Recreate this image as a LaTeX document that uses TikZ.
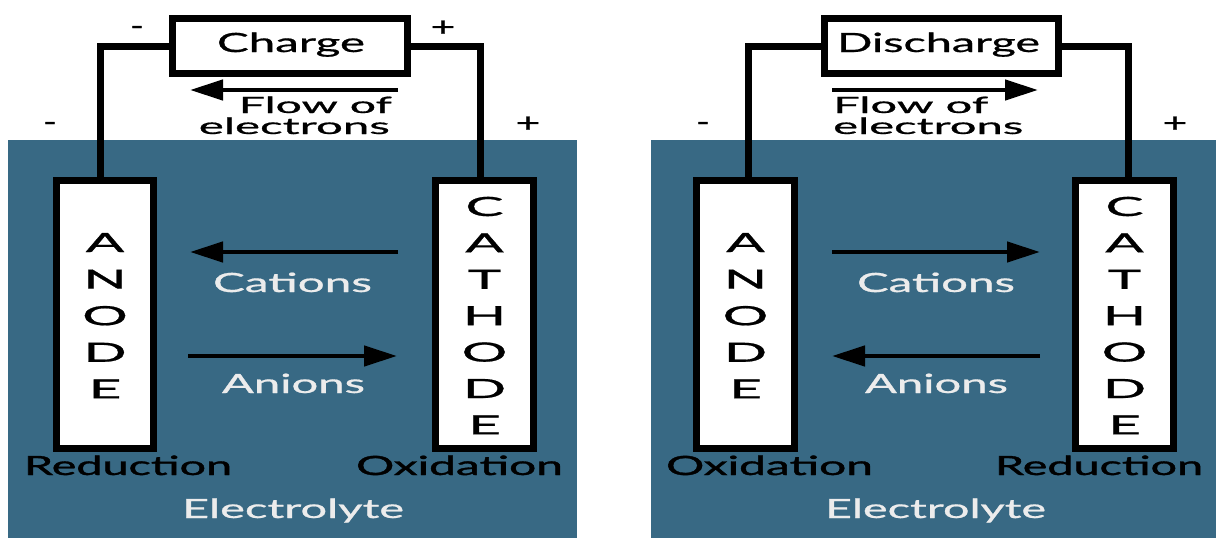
\documentclass[tikz,border=0pt]{standalone}
\usepackage{fontspec}
\setmainfont{Lato}
\newfontfamily\mfont{Lato}[FakeBold=0.7]
\newfontfamily\hfont{Lato}[FakeBold=1.2]
\usepackage{graphicx}
\usetikzlibrary{arrows.meta}
\definecolor{elec}{RGB}{56,105,132}
\definecolor{lite}{RGB}{236,236,236}
\newcommand{\fw}[2]{\resizebox{#1pt}{\height}{#2}}
\newcommand{\wl}[1]{\scalebox{2.15}[1]{#1}}
\begin{document}
\begin{tikzpicture}[x=1pt,y=-1pt,
  font=\fontsize{26.5}{30}\mfont,
  box/.style={draw=black, line width=7pt, fill=white, inner sep=0pt},
  electrode/.style={draw=black, line width=7pt, fill=white, inner sep=0pt,
    minimum height=268pt},
  wire/.style={draw=black, line width=7pt},
  arr/.style={draw=black, line width=4.5pt, -{Triangle[length=33pt,width=20pt]}},
  lbl/.style={anchor=base, inner sep=0pt, text=black},
  redox/.style={anchor=base, inner sep=0pt, text=black, font=\fontsize{26.5}{30}\hfont},
  flowlbl/.style={inner sep=0pt, text=black, font=\fontsize{22.5}{25}\mfont},
  ionlbl/.style={anchor=base, inner sep=0pt, text=lite},
  sign/.style={anchor=base, inner sep=0pt, text=black}]
\useasboundingbox (0,0) rectangle (1216,538);
\fill[white] (0,0) rectangle (1216,538);
\fill[elec] (8,140) rectangle (577,538);
\fill[elec] (651,140) rectangle (1216,538);

% ---------- left panel (Charge) ----------
\node[box, minimum width=235pt, minimum height=55pt] (chg) at (290,46) {};
\node[lbl] (chgt) at (291,52) {\fw{148}{Charge}};
\node[electrode, minimum width=97pt] (anL) at (105,314.5) {};
\node[electrode, minimum width=98pt] (caL) at (484.5,314.5) {};
\draw[wire] (chg.west) -| ([xshift=-5pt]anL.north);
\draw[wire] (chg.east) -| ([xshift=-4.5pt]caL.north);
\node[sign] (mL1) at (137,35) {\scalebox{1.4}[1]{-}};
\node[sign] (pL1) at (443,36) {\scalebox{1.6}[1]{+}};
\node[sign] (mL2) at (50,131) {\scalebox{1.4}[1]{-}};
\node[sign] (pL2) at (528,132) {\scalebox{1.6}[1]{+}};
\coordinate (fL1) at (398,90);
\coordinate (fL2) at (190,90);
\draw[arr] (fL1) -- (fL2);
\node[flowlbl, anchor=base east] (flowL) at (392,113) {\fw{153}{Flow of}};
\node[flowlbl, anchor=base east] (elL) at (390,134) {\fw{191}{electrons}};
\foreach \l [count=\i] in {A,N,O,D,E}
  \node[lbl] (aL\i) at (105,{252+36.6*(\i-1)}) {\wl{\l}};
\foreach \l [count=\i] in {C,A,T,H,O,D,E}
  \node[lbl] (cL\i) at (484.5,{216+36.4*(\i-1)}) {\wl{\l}};
\coordinate (cat1) at (398,252);
\coordinate (cat2) at (190,252);
\draw[arr] (cat1) -- (cat2);
\coordinate (an1) at (188,356);
\coordinate (an2) at (397,356);
\draw[arr] (an1) -- (an2);
\node[ionlbl] (catL) at (292.5,292) {\fw{159}{Cations}};
\node[ionlbl] (aniL) at (293.5,393) {\fw{143}{Anions}};
\node[redox] (redL) at (128,475) {\fw{208}{Reduction}};
\node[redox] (oxL) at (459.5,475) {\fw{207}{Oxidation}};
\node[ionlbl] (elyL) at (293,518) {\fw{222}{Electrolyte}};

% ---------- right panel (Discharge) ----------
\node[box, minimum width=234pt, minimum height=55pt] (dch) at (941.5,46) {};
\node[lbl] (dcht) at (938.5,52) {\fw{203}{Discharge}};
\node[electrode, minimum width=98pt] (anR) at (745.5,314.5) {};
\node[electrode, minimum width=98pt] (caR) at (1124.5,314.5) {};
\draw[wire] (dch.west) -| ([xshift=2.5pt]anR.north);
\draw[wire] (dch.east) -| ([xshift=3.5pt]caR.north);
\node[sign] (mR2) at (703,131) {\scalebox{1.4}[1]{-}};
\node[sign] (pR2) at (1175,132) {\scalebox{1.6}[1]{+}};
\coordinate (fR1) at (832,90);
\coordinate (fR2) at (1038,90);
\draw[arr] (fR1) -- (fR2);
\node[flowlbl, anchor=base west] (flowR) at (833,113) {\fw{155}{Flow of}};
\node[flowlbl, anchor=base west] (elR) at (833,134) {\fw{190}{electrons}};
\foreach \l [count=\i] in {A,N,O,D,E}
  \node[lbl] (aR\i) at (745.5,{252+36.6*(\i-1)}) {\wl{\l}};
\foreach \l [count=\i] in {C,A,T,H,O,D,E}
  \node[lbl] (cR\i) at (1124.5,{216+36.4*(\i-1)}) {\wl{\l}};
\coordinate (catR1) at (832,252);
\coordinate (catR2) at (1040,252);
\draw[arr] (catR1) -- (catR2);
\coordinate (anR1) at (1040,356);
\coordinate (anR2) at (832,356);
\draw[arr] (anR1) -- (anR2);
\node[ionlbl] (catR) at (936,292) {\fw{158}{Cations}};
\node[ionlbl] (aniR) at (936.5,393) {\fw{143}{Anions}};
\node[redox] (oxR) at (769.5,475) {\fw{207}{Oxidation}};
\node[redox] (redR) at (1099,475) {\fw{208}{Reduction}};
\node[ionlbl] (elyR) at (935.5,518) {\fw{221}{Electrolyte}};
\end{tikzpicture}
\end{document}
